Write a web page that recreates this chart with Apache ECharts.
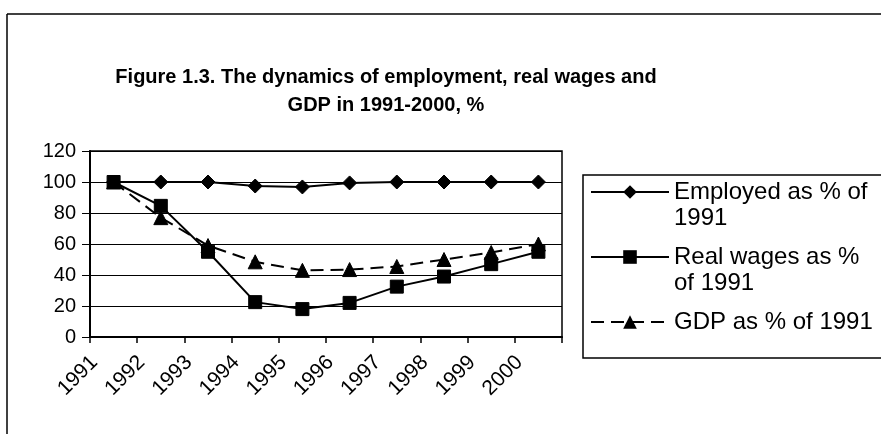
<!DOCTYPE html>
<html>
<head>
<meta charset="utf-8">
<script src="https://cdn.jsdelivr.net/npm/echarts@6/dist/echarts.min.js"></script>
<style>
html,body{margin:0;padding:0;background:#fff;}
#chart{width:881px;height:434px;}
</style>
</head>
<body>
<div id="chart"></div>
<script>
var titleText = 'Figure 1.3. The dynamics of employment, real wages and\nGDP in 1991-2000, %';
var years = ['1991','1992','1993','1994','1995','1996','1997','1998','1999','2000'];
var employed = [100, 100, 100, 97.4, 96.8, 99.4, 100, 100, 100, 100];
var realWages = [100, 84.6, 55, 22.5, 18, 22, 32.5, 39, 47, 55];
var gdp = [100, 77, 59, 48.5, 43, 43.5, 45.5, 50, 54.5, 60];
var seriesNames = ['Employed as % of\n1991', 'Real wages as %\nof 1991', 'GDP as % of 1991'];
var yTicks = [0, 20, 40, 60, 80, 100, 120];

var FONT = '"Liberation Sans", Arial, sans-serif';
var chart = echarts.init(document.getElementById('chart'), null, {renderer: 'canvas'});

var LH = 26;
function legendFor(name, iconY, twoLine) {
  var blockH = twoLine ? LH * 3 : LH;
  return {
    orient: 'vertical',
    left: 590,
    top: iconY - blockH / 2,
    padding: 0,
    itemWidth: 78,
    itemHeight: 17,
    itemGap: 0,
    data: [name],
    formatter: function (n) { return twoLine ? '\n' + n : n; },
    textStyle: {fontFamily: FONT, fontSize: 24, color: '#000', lineHeight: LH}
  };
}

var option = {
  backgroundColor: '#fff',
  animation: false,
  title: {
    text: titleText,
    left: 386,
    top: 63,
    textAlign: 'center',
    padding: 0,
    textStyle: {fontFamily: FONT, fontSize: 20, fontWeight: 'bold', color: '#000', lineHeight: 28}
  },
  legend: [
    legendFor(seriesNames[0], 192, true),
    legendFor(seriesNames[1], 257, true),
    legendFor(seriesNames[2], 322, false)
  ],
  grid: {
    left: 90, right: 319, top: 151, bottom: 97,
    show: true, borderColor: '#000', borderWidth: 1.5, backgroundColor: 'transparent'
  },
  xAxis: {
    type: 'category',
    data: years,
    boundaryGap: true,
    axisLine: {lineStyle: {color: '#000', width: 2}},
    axisTick: {show: true, length: 6, inside: false, lineStyle: {color: '#000', width: 1.5}},
    axisLabel: {
      rotate: 45, margin: 3, fontFamily: FONT, fontSize: 21, color: '#000',
      padding: [0, 27, 0, 0], interval: 0
    }
  },
  yAxis: {
    type: 'value',
    min: yTicks[0], max: yTicks[yTicks.length - 1], interval: 20,
    axisLine: {show: true, lineStyle: {color: '#000', width: 2}},
    axisTick: {show: true, length: 8, lineStyle: {color: '#000', width: 1}},
    axisLabel: {margin: 14, fontFamily: FONT, fontSize: 20, color: '#000'},
    splitLine: {show: true, lineStyle: {color: '#000', width: 1}}
  },
  graphic: [
    {type: 'line', shape: {x1: 7, y1: 14, x2: 881, y2: 14}, style: {stroke: '#000', lineWidth: 1.5}, z: 100},
    {type: 'line', shape: {x1: 7, y1: 14, x2: 7, y2: 434}, style: {stroke: '#000', lineWidth: 1.5}, z: 100},
    {type: 'rect', shape: {x: 583, y: 175, width: 300, height: 183}, style: {fill: 'none', stroke: '#000', lineWidth: 1.5}, z: 100}
  ],
  series: [
    {
      name: seriesNames[0], type: 'line', data: employed,
      symbol: 'diamond', symbolSize: 14,
      lineStyle: {color: '#000', width: 2, type: 'solid'},
      itemStyle: {color: '#000', borderColor: '#000'}
    },
    {
      name: seriesNames[1], type: 'line', data: realWages,
      symbol: 'rect', symbolSize: 13,
      lineStyle: {color: '#000', width: 2, type: 'solid'},
      itemStyle: {color: '#000', borderColor: '#000'}
    },
    {
      name: seriesNames[2], type: 'line', data: gdp,
      symbol: 'triangle', symbolSize: 14,
      lineStyle: {color: '#000', width: 2, type: [13, 7]},
      itemStyle: {color: '#000', borderColor: '#000'}
    }
  ]
};
chart.setOption(option);
</script>
</body>
</html>
